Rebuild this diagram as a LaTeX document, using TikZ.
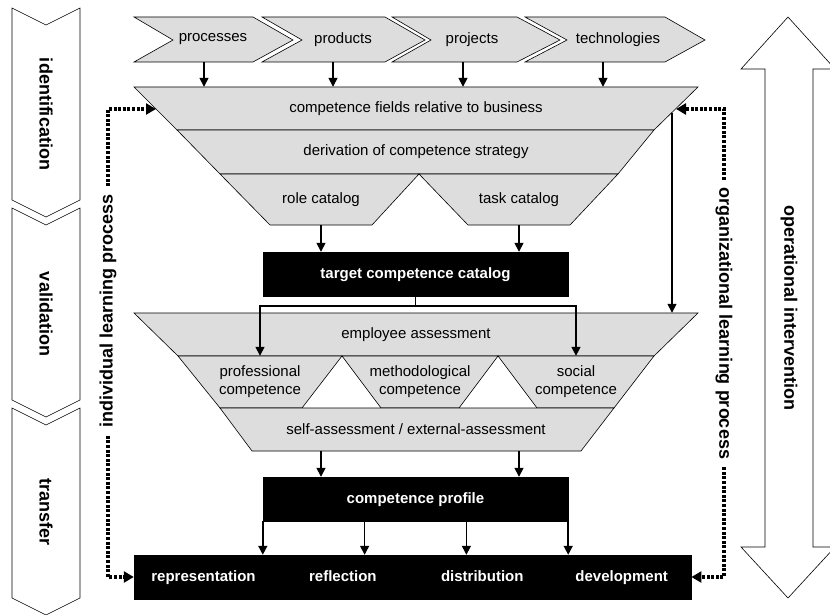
\documentclass[tikz,border=0pt]{standalone}
\usepackage{fontspec}
\setmainfont{Liberation Sans}
\usetikzlibrary{arrows.meta,positioning,calc}
\definecolor{bandfill}{RGB}{221,221,221}

\begin{document}
\begin{tikzpicture}[
	x=1pt, y=-1pt,
	every node/.style={font=\fontsize{15}{18}\selectfont, align=center, inner sep=0pt},
	band/.style={draw, fill=bandfill, line width=0.6pt},
	phase/.style={draw, fill=white, line width=0.6pt},
	darkbox/.style={draw=black, fill=black, text=white, font=\fontsize{15}{18}\selectfont\bfseries, text height=11pt, text depth=3pt, minimum height=44},
	sidelabel/.style={font=\fontsize{18}{22}\selectfont\bfseries, inner xsep=8pt},
	arr/.style={line width=1.5pt, -{Triangle[length=9pt,width=9pt]}},
	learn/.style={line width=3.4pt, dash pattern=on 3pt off 1.6pt, -{Triangle[length=10pt,width=11pt]}}
	]
	\useasboundingbox (0,0) rectangle (830,615);

	\filldraw[phase] (12,8) -- (46,25) -- (80,8) -- (80,200) -- (46,217) -- (12,200) -- cycle;
	\filldraw[phase] (12,208) -- (46,225) -- (80,208) -- (80,400) -- (46,417) -- (12,400) -- cycle;
	\filldraw[phase] (12,408) -- (46,425) -- (80,408) -- (80,598) -- (46,615) -- (12,598) -- cycle;
	\node[sidelabel, rotate=-90] (ident) at (46,114) {identification};
	\node[sidelabel, rotate=-90] (valid) at (46,314) {validation};
	\node[sidelabel, rotate=-90] (transf) at (46,512) {transfer};

	\filldraw[band] (134,17) -- (253,17) -- (293,40) -- (253,62) -- (134,62) -- (173,40) -- cycle;
	\filldraw[band] (262,17) -- (385,17) -- (425,40) -- (385,62) -- (262,62) -- (302,40) -- cycle;
	\filldraw[band] (392,17) -- (517,17) -- (560,40) -- (517,62) -- (392,62) -- (431,40) -- cycle;
	\filldraw[band] (525,17) -- (665,17) -- (705,40) -- (665,62) -- (525,62) -- (567,40) -- cycle;
	\node[minimum height=45] (proc) at (213,39.5) {processes};
	\node[minimum height=45] (prod) at (343,39.5) {products};
	\node[minimum height=45] (proj) at (472,39.5) {projects};
	\node[minimum height=45] (tech) at (618,39.5) {technologies};

	\filldraw[band] (134,87) -- (698,87) -- (654,130) -- (177,130) -- cycle;
	\filldraw[band] (177,130) -- (654,130) -- (618,174) -- (220,174) -- cycle;
	\filldraw[band] (220,174) -- (419,174) -- (372,225) -- (270,225) -- cycle;
	\filldraw[band] (419,174) -- (618,174) -- (570,225) -- (468,225) -- cycle;
	\node[minimum height=43] (fields) at (416,108.5) {competence fields relative to business};
	\node[minimum height=44] (strategy) at (416,152) {derivation of competence strategy};
	\node[minimum height=51] (role) at (321,199.5) {role catalog};
	\node[minimum height=51] (task) at (519,199.5) {task catalog};

	\draw[arr] ([xshift=-9]proc.south) coordinate (a1) -- (a1 |- fields.north);
	\draw[arr] ([xshift=-10]prod.south) coordinate (a2) -- (a2 |- fields.north);
	\draw[arr] ([xshift=-9]proj.south) coordinate (a3) -- (a3 |- fields.north);
	\draw[arr] ([xshift=-15]tech.south) coordinate (a4) -- (a4 |- fields.north);

	\node[darkbox, minimum width=305] (target) at (415.5,274) {target competence catalog};
	\draw[arr] (role.south) -- (role.south |- target.north);
	\draw[arr] (task.south) -- (task.south |- target.north);

	\filldraw[band] (134,313) -- (698,313) -- (654,356) -- (178,356) -- cycle;
	\filldraw[band] (178,356) -- (342,356) -- (302,408) -- (220,408) -- cycle;
	\filldraw[band] (342,356) -- (498,356) -- (459,408) -- (381,408) -- cycle;
	\filldraw[band] (498,356) -- (654,356) -- (614,408) -- (537,408) -- cycle;
	\filldraw[band] (220,408) -- (614,408) -- (581,451) -- (252,451) -- cycle;
	\node[minimum height=43] (assess) at (416,334.5) {employee assessment};
	\node[minimum height=52] (prof) at (260,382) {professional\\competence};
	\node[minimum height=52] (meth) at (420,382) {methodological\\competence};
	\node[minimum height=52] (social) at (576,382) {social\\competence};
	\node[minimum height=43] (self) at (416,429.5) {self-assessment / external-assessment};

	\draw[arr] (target.south) -- ++(0,10) -| (prof.north);
	\draw[arr] (target.south) -- ++(0,10) -| (social.north);
	\coordinate (fieldsedge) at (672,113);
	\draw[arr] (fieldsedge) -- (fieldsedge |- assess.north);

	\node[darkbox, minimum width=305] (profile) at (415.5,499) {competence profile};
	\draw[arr] (self.south -| role) -- (profile.north -| role);
	\draw[arr] (self.south -| task) -- (profile.north -| task);

	\node[darkbox, minimum width=139] (repr) at (203.5,577) {representation};
	\node[darkbox, minimum width=139, right=0pt of repr] (refl) {reflection};
	\node[darkbox, minimum width=139, right=0pt of refl] (distr) {distribution};
	\node[darkbox, minimum width=139, right=0pt of distr] (devel) {development};

	\path ($(profile.south west)!1/3!(profile.south east)$) coordinate (pa)
		($(profile.south west)!2/3!(profile.south east)$) coordinate (pb);
	\draw[arr] (profile.south west) -- (profile.south west |- repr.north);
	\draw[arr] (pa) -- (pa |- refl.north);
	\draw[arr] (pb) -- (pb |- distr.north);
	\draw[arr] (profile.south east) -- (profile.south east |- devel.north);

	\node[sidelabel, rotate=90] (indiv) at (108,311) {individual learning process};
	\coordinate (fieldsleft) at (156,109);
	\draw[learn] (indiv.east) |- (fieldsleft);
	\draw[learn] (indiv.west) |- (repr.west);

	\node[sidelabel, rotate=-90] (organ) at (724,323.5) {organizational learning process};
	\coordinate (fieldsright) at (676,109);
	\draw[learn] (organ.west) |- (fieldsright);
	\draw[learn] (organ.east) |- (devel.east);

	\filldraw[phase] (788,17) -- (835,69) -- (813,69) -- (813,547) -- (835,547) -- (788,598) -- (741,547) -- (765,547) -- (765,69) -- (741,69) -- cycle;
	\node[sidelabel, rotate=-90] (oper) at (789,308) {operational intervention};
\end{tikzpicture}
\end{document}
